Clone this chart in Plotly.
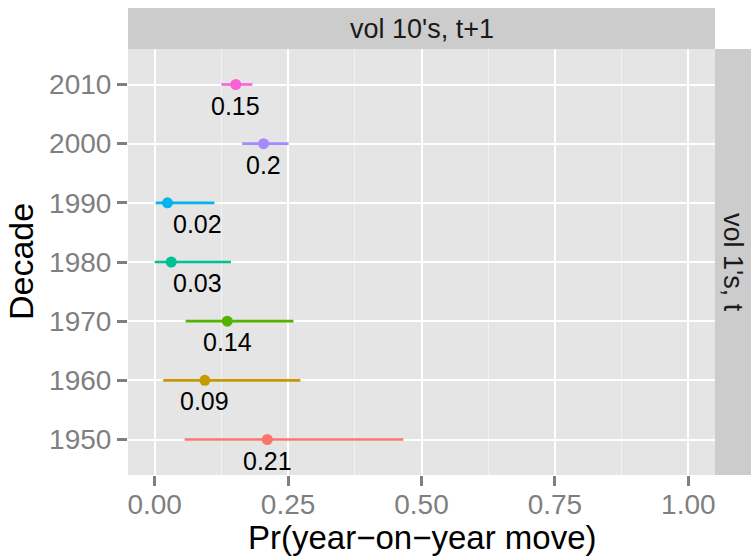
import plotly.graph_objects as go

# Estimated probability of a year-on-year move, by decade, with interval bounds
decades = ["1950", "1960", "1970", "1980", "1990", "2000", "2010"]
prob = [0.211, 0.094, 0.136, 0.031, 0.024, 0.204, 0.152]
lower = [0.056, 0.016, 0.058, 0.000, 0.002, 0.164, 0.125]
upper = [0.466, 0.273, 0.260, 0.143, 0.112, 0.251, 0.183]
colors = ["#F8766D", "#C49A00", "#53B400", "#00C094", "#00B6EB", "#A58AFF", "#FB61D7"]
x_ticks = [0.0, 0.25, 0.5, 0.75, 1.0]

# value labels are kept clear of the left edge of the panel
LABEL_MIN_X = 0.08

FONT = "Liberation Sans, Arial, Helvetica, sans-serif"
W, H = 751, 556
ML, MR, MT, MB = 128, 36, 49, 81
PW, PH = W - ML - MR, H - MT - MB

fig = go.Figure()
for i, (d, p, lo, hi, c) in enumerate(zip(decades, prob, lower, upper, colors)):
    fig.add_trace(go.Scatter(
        x=[p], y=[d], mode="markers",
        marker=dict(color=c, size=11),
        error_x=dict(type="data", symmetric=False,
                     array=[hi - p], arrayminus=[p - lo],
                     color=c, thickness=2.6, width=0),
        showlegend=False, hoverinfo="skip",
    ))
    # value label under each point (category index on the y axis)
    fig.add_annotation(x=max(p, LABEL_MIN_X), y=i, text=f"{round(p, 2):g}", showarrow=False,
                       xanchor="center", yanchor="middle", yshift=-21,
                       font=dict(family=FONT, size=25, color="black"))

# facet strips: top (column) and right (row)
strip_h = 41 / PH
strip_w = 36 / PW
fig.add_shape(type="rect", xref="paper", yref="paper", x0=0, x1=1, y0=1, y1=1 + strip_h,
              fillcolor="#CCCCCC", line=dict(width=0), layer="below")
fig.add_shape(type="rect", xref="paper", yref="paper", x0=1, x1=1 + strip_w, y0=0, y1=1,
              fillcolor="#CCCCCC", line=dict(width=0), layer="below")
fig.add_annotation(xref="paper", yref="paper", x=0.5, y=1 + strip_h / 2, text="vol 10's, t+1",
                   showarrow=False, xanchor="center", yanchor="middle",
                   font=dict(family=FONT, size=27, color="#1A1A1A"))
fig.add_annotation(xref="paper", yref="paper", x=1 + strip_w / 2, y=0.5, text="vol 1's, t",
                   showarrow=False, textangle=90, xanchor="center", yanchor="middle",
                   font=dict(family=FONT, size=27, color="#1A1A1A"))

# axis titles
fig.add_annotation(xref="paper", yref="paper", x=0.5, y=-(537 - (H - MB)) / PH,
                   text="Pr(year\u2212on\u2212year move)", showarrow=False,
                   xanchor="center", yanchor="middle",
                   font=dict(family=FONT, size=33, color="black"))
fig.add_annotation(xref="paper", yref="paper", x=-(ML - 21) / PW, y=0.5,
                   text="Decade", showarrow=False, textangle=-90,
                   xanchor="center", yanchor="middle",
                   font=dict(family=FONT, size=34, color="black"))

fig.update_xaxes(
    range=[-0.05, 1.05], tickvals=x_ticks, ticktext=[f"{v:.2f}" for v in x_ticks],
    showgrid=True, gridcolor="white", gridwidth=2.4, zeroline=False,
    minor=dict(tickvals=[0.125, 0.375, 0.625, 0.875], showgrid=True,
               gridcolor="#F2F2F2", gridwidth=1.2),
    ticks="outside", ticklen=10, tickwidth=2.6, tickcolor="#7F7F7F",
    ticklabelstandoff=-6, automargin=False,
    tickfont=dict(family=FONT, size=28, color="#7F7F7F"),
)
fig.update_yaxes(
    type="category", categoryorder="array", categoryarray=decades,
    range=[-0.6, len(decades) - 0.4], automargin=False,
    showgrid=True, gridcolor="white", gridwidth=2.4, zeroline=False,
    ticks="outside", ticklen=10, tickwidth=2.6, tickcolor="#7F7F7F",
    tickfont=dict(family=FONT, size=28, color="#7F7F7F"),
)
fig.update_layout(
    width=W, height=H,
    margin=dict(l=ML, r=MR, t=MT, b=MB, pad=0),
    plot_bgcolor="#E5E5E5", paper_bgcolor="white",
)
fig.write_html("out.html")
